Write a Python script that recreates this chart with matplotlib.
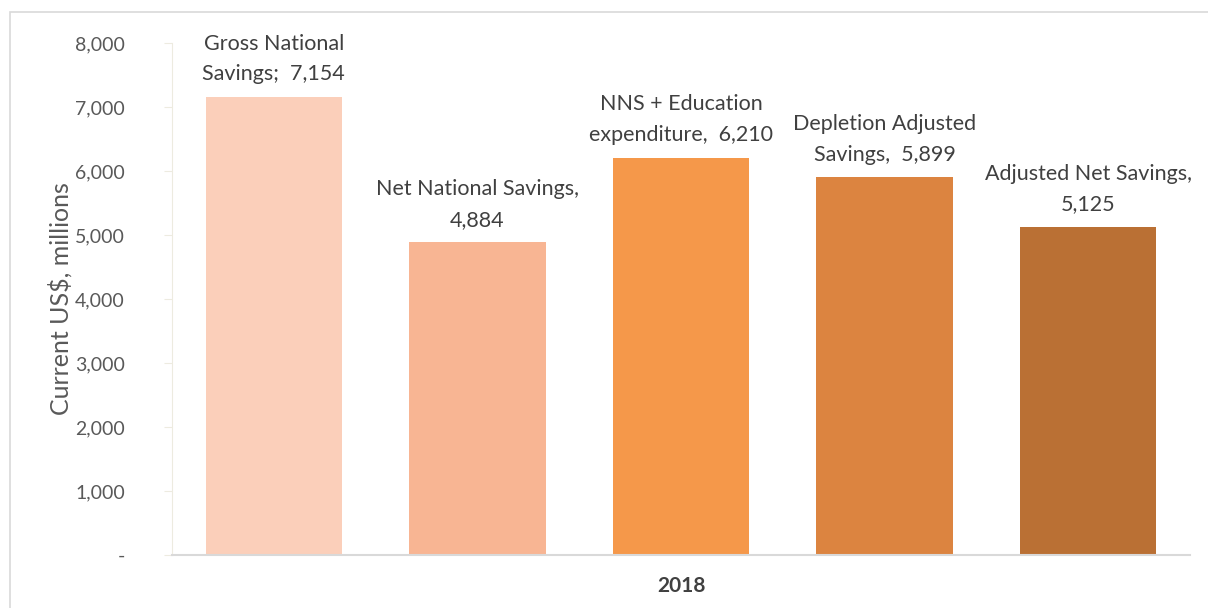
import matplotlib.pyplot as plt
from matplotlib.patches import Rectangle

plt.rcParams['font.family'] = ['Lato', 'DejaVu Sans']

names = ["Gross National\nSavings;  7,154",
         "Net National Savings,\n4,884",
         "NNS + Education\nexpenditure,  6,210",
         "Depletion Adjusted\nSavings,  5,899",
         "Adjusted Net Savings,\n5,125"]
values = [7154, 4884, 6210, 5899, 5125]
colors = ["#FBCFBA", "#F8B593", "#F5984A", "#DC8440", "#BA7034"]
yticks = [0, 1000, 2000, 3000, 4000, 5000, 6000, 7000, 8000]
year = "2018"

fig = plt.figure(figsize=(12.08, 6.08), dpi=100)
fig.patches.append(Rectangle((10 / 1208, -0.01), 1.1, (608 - 12) / 608 + 0.01,
                             transform=fig.transFigure, fill=False,
                             edgecolor="#D9D9D9", linewidth=1.2))
ax = fig.add_axes([172 / 1208, 53 / 608, (1190 - 172) / 1208, 512 / 608])

x = list(range(len(values)))
ax.bar(x, values, width=0.67, color=colors)
for i in x:
    ax.text(i, values[i] + 200, names[i], ha="center", va="bottom",
            fontsize=15.5, color="#404040", linespacing=1.65)

ax.set_xlim(-0.5, len(values) - 0.5)
ax.set_ylim(0, 8000)
ax.set_yticks(yticks)
ax.set_yticklabels(["-" if v == 0 else f"{v:,}" for v in yticks])
ax.tick_params(axis="y", colors="#EDEBE0", labelcolor="#595959",
               labelsize=14, length=6, pad=28)
ax.set_xticks([2])
ax.set_xticklabels([year], fontweight="bold")
ax.tick_params(axis="x", length=0, labelsize=15, labelcolor="#404040", pad=15)
ax.set_ylabel("Current US$, millions", fontsize=18, color="#595959", labelpad=2)

for s in ["top", "right"]:
    ax.spines[s].set_visible(False)
ax.spines["left"].set_color("#EDEBE0")
ax.spines["bottom"].set_color("#D9D9D9")
ax.spines["bottom"].set_linewidth(1.5)

fig.savefig("out.png", dpi=100)
